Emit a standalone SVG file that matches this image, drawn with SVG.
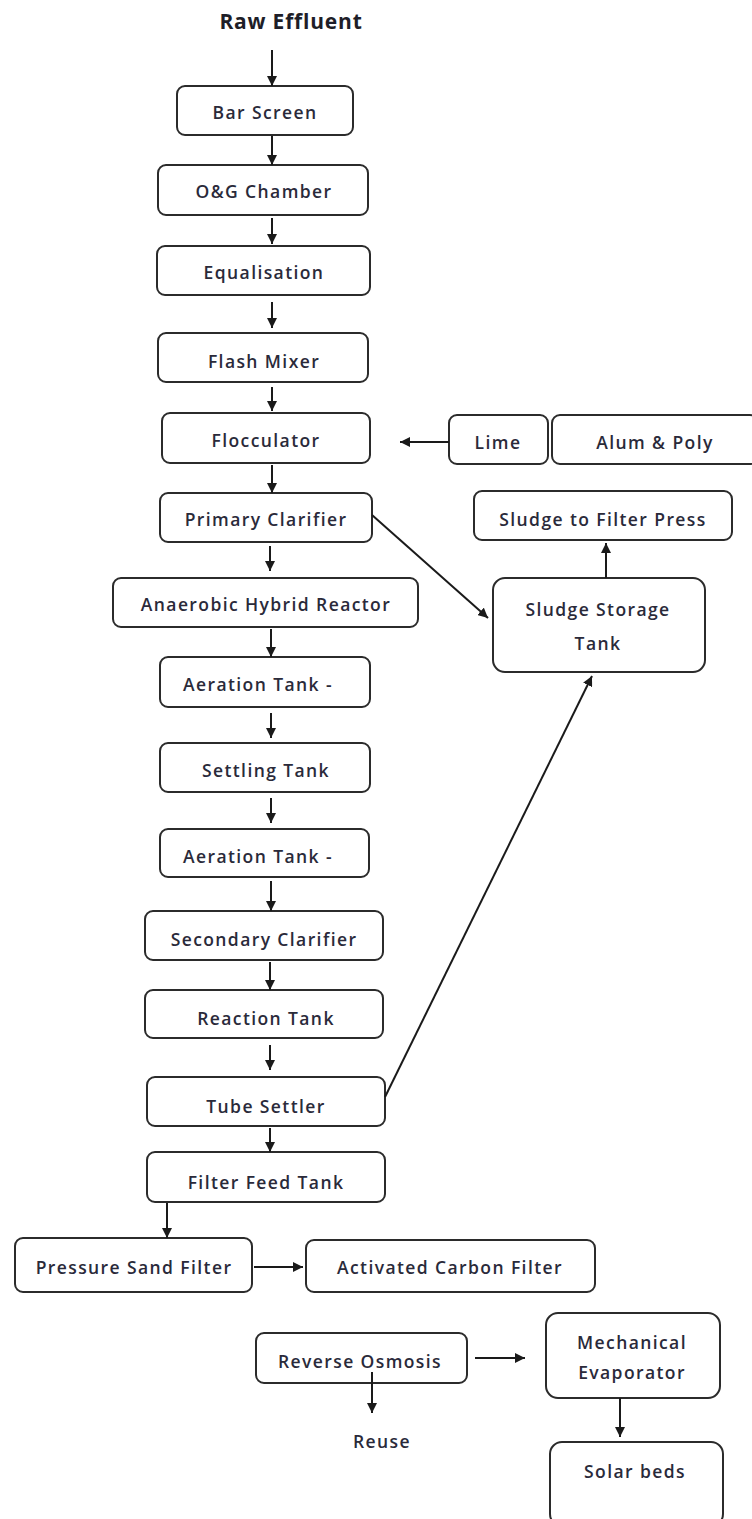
<svg xmlns="http://www.w3.org/2000/svg" width="752" height="1519" viewBox="0 0 752 1519">
  <style>
    .box { fill: #ffffff; stroke: #2b2b2b; stroke-width: 2; }
    .lbl { font-family: "Open Sans", "Liberation Sans", sans-serif; font-size: 17.5px; font-weight: 600; letter-spacing: 1.4px; fill: #2a2a3a; text-anchor: middle; }
    .title { font-family: "Open Sans", "Liberation Sans", sans-serif; font-size: 21px; font-weight: 700; letter-spacing: 0.8px; fill: #1e1e28; text-anchor: middle; }
    .edge { stroke: #1a1a1a; stroke-width: 2; fill: none; marker-end: url(#arrow); }
  </style>
  <defs>
    <marker id="arrow" viewBox="0 0 10 10" refX="10" refY="5" markerWidth="5" markerHeight="5" orient="auto" markerUnits="strokeWidth">
      <path d="M0,0 L10,5 L0,10 z" fill="#1a1a1a"/>
    </marker>
  </defs>
  <rect width="752" height="1519" fill="#ffffff"/>

  <g id="raw-effluent"><text class="title" x="291" y="29">Raw Effluent</text></g>

  <g id="bar-screen"><rect class="box" x="177" y="86" width="176" height="49" rx="8"/><text class="lbl" x="265" y="119">Bar Screen</text></g>
  <g id="og-chamber"><rect class="box" x="158" y="165" width="210" height="50" rx="8"/><text class="lbl" x="264" y="198">O&amp;G Chamber</text></g>
  <g id="equalisation"><rect class="box" x="157" y="246" width="213" height="49" rx="8"/><text class="lbl" x="264" y="279">Equalisation</text></g>
  <g id="flash-mixer"><rect class="box" x="158" y="333" width="210" height="49" rx="8"/><text class="lbl" x="264" y="368">Flash Mixer</text></g>
  <g id="flocculator"><rect class="box" x="162" y="413" width="208" height="50" rx="8"/><text class="lbl" x="266" y="447">Flocculator</text></g>
  <g id="lime"><rect class="box" x="449" y="415" width="99" height="49" rx="8"/><text class="lbl" x="498" y="449">Lime</text></g>
  <g id="alum-poly"><rect class="box" x="552" y="415" width="206" height="49" rx="8"/><text class="lbl" x="655" y="449">Alum &amp; Poly</text></g>
  <g id="primary-clarifier"><rect class="box" x="160" y="493" width="212" height="49" rx="8"/><text class="lbl" x="266" y="526">Primary Clarifier</text></g>
  <g id="sludge-filter-press"><rect class="box" x="474" y="491" width="258" height="49" rx="8"/><text class="lbl" x="603" y="526">Sludge to Filter Press</text></g>
  <g id="sludge-storage"><rect class="box" x="493" y="578" width="212" height="94" rx="12"/><text class="lbl" x="598" y="616">Sludge Storage</text><text class="lbl" x="598" y="650">Tank</text></g>
  <g id="anaerobic-reactor"><rect class="box" x="113" y="578" width="305" height="49" rx="8"/><text class="lbl" x="266" y="611">Anaerobic Hybrid Reactor</text></g>
  <g id="aeration-1"><rect class="box" x="160" y="657" width="210" height="50" rx="8"/><text class="lbl" x="258" y="691">Aeration Tank -</text></g>
  <g id="settling-tank"><rect class="box" x="160" y="743" width="210" height="49" rx="8"/><text class="lbl" x="266" y="777">Settling Tank</text></g>
  <g id="aeration-2"><rect class="box" x="160" y="829" width="209" height="48" rx="8"/><text class="lbl" x="258" y="863">Aeration Tank -</text></g>
  <g id="secondary-clarifier"><rect class="box" x="145" y="911" width="238" height="49" rx="8"/><text class="lbl" x="264" y="946">Secondary Clarifier</text></g>
  <g id="reaction-tank"><rect class="box" x="145" y="990" width="238" height="48" rx="8"/><text class="lbl" x="266" y="1025">Reaction Tank</text></g>
  <g id="tube-settler"><rect class="box" x="147" y="1077" width="238" height="49" rx="8"/><text class="lbl" x="266" y="1113">Tube Settler</text></g>
  <g id="filter-feed-tank"><rect class="box" x="147" y="1152" width="238" height="50" rx="8"/><text class="lbl" x="266" y="1189">Filter Feed Tank</text></g>
  <g id="pressure-sand-filter"><rect class="box" x="15" y="1238" width="237" height="54" rx="8"/><text class="lbl" x="134" y="1274">Pressure Sand Filter</text></g>
  <g id="activated-carbon-filter"><rect class="box" x="306" y="1240" width="289" height="52" rx="8"/><text class="lbl" x="450" y="1274">Activated Carbon Filter</text></g>
  <g id="reverse-osmosis"><rect class="box" x="256" y="1333" width="211" height="50" rx="8"/><text class="lbl" x="360" y="1368">Reverse Osmosis</text></g>
  <g id="mechanical-evaporator"><rect class="box" x="546" y="1313" width="174" height="85" rx="12"/><text class="lbl" x="632" y="1349">Mechanical</text><text class="lbl" x="632" y="1379">Evaporator</text></g>
  <g id="reuse"><text class="lbl" x="382" y="1448">Reuse</text></g>
  <g id="solar-beds"><rect class="box" x="550" y="1442" width="173" height="84" rx="12"/><text class="lbl" x="635" y="1478">Solar beds</text></g>

  <g id="connectors">
    <line class="edge" x1="272" y1="50" x2="272" y2="86"/>
    <line class="edge" x1="272" y1="136" x2="272" y2="165"/>
    <line class="edge" x1="272" y1="218" x2="272" y2="244"/>
    <line class="edge" x1="272" y1="302" x2="272" y2="328"/>
    <line class="edge" x1="272" y1="387" x2="272" y2="411"/>
    <line class="edge" x1="272" y1="465" x2="272" y2="493"/>
    <line class="edge" x1="449" y1="442" x2="400" y2="442"/>
    <line class="edge" x1="270" y1="546" x2="270" y2="571"/>
    <line class="edge" x1="271" y1="629" x2="271" y2="657"/>
    <line class="edge" x1="271" y1="713" x2="271" y2="738"/>
    <line class="edge" x1="271" y1="798" x2="271" y2="823"/>
    <line class="edge" x1="271" y1="881" x2="271" y2="911"/>
    <line class="edge" x1="270" y1="962" x2="270" y2="990"/>
    <line class="edge" x1="270" y1="1045" x2="270" y2="1070"/>
    <line class="edge" x1="270" y1="1128" x2="270" y2="1152"/>
    <line class="edge" x1="167" y1="1203" x2="167" y2="1238"/>
    <line class="edge" x1="254" y1="1267" x2="303" y2="1267"/>
    <line class="edge" x1="372" y1="515" x2="488" y2="618"/>
    <line class="edge" x1="385" y1="1097" x2="592" y2="676"/>
    <line class="edge" x1="606" y1="578" x2="606" y2="543"/>
    <line class="edge" x1="475" y1="1358" x2="525" y2="1358"/>
    <line class="edge" x1="372" y1="1372" x2="372" y2="1413"/>
    <line class="edge" x1="620" y1="1398" x2="620" y2="1437"/>
  </g>
</svg>
